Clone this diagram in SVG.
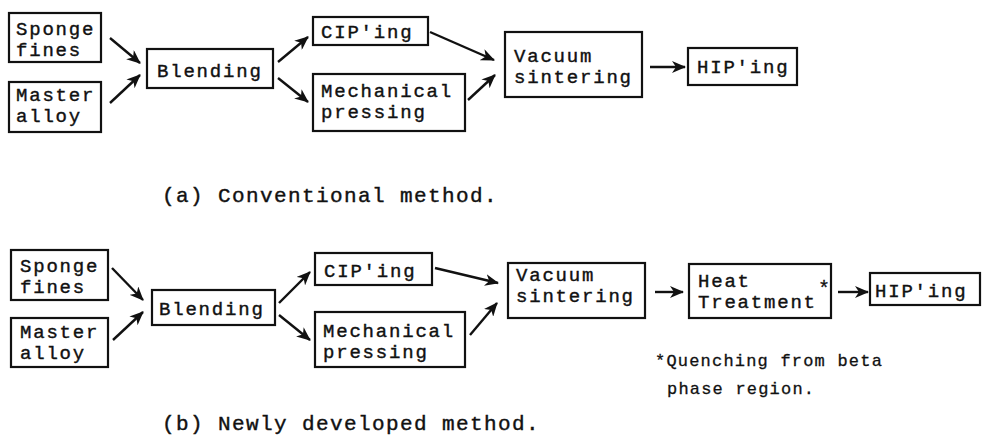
<svg xmlns="http://www.w3.org/2000/svg" width="984" height="443" viewBox="0 0 984 443">
<style>
.box{fill:#fff;stroke:#111;stroke-width:2.2}
.t{font-family:"Liberation Mono","DejaVu Sans Mono",monospace;font-size:19px;letter-spacing:1.8px;fill:#111;stroke:#111;stroke-width:0.4}
.cap{font-family:"Liberation Mono","DejaVu Sans Mono",monospace;font-size:21px;letter-spacing:1.4px;fill:#111;stroke:#111;stroke-width:0.4}
.note{font-family:"Liberation Mono","DejaVu Sans Mono",monospace;font-size:17px;letter-spacing:1.2px;fill:#111;stroke:#111;stroke-width:0.3}
.star{font-family:"Liberation Mono","DejaVu Sans Mono",monospace;font-size:20px;fill:#111;stroke:#111;stroke-width:0.3}
.c{fill:none;stroke:#111;stroke-width:2.4;marker-end:url(#ah)}
</style>
<defs>
<marker id="ah" markerUnits="userSpaceOnUse" markerWidth="14" markerHeight="12" refX="13" refY="6" orient="auto" viewBox="0 0 14 12">
<path d="M0,0 L14,6 L0,12 L4,6 Z" fill="#111"/>
</marker>
</defs>
<rect width="984" height="443" fill="#fff"/>

<g id="connectors">
<line class="c" x1="110" y1="38" x2="140" y2="63"/>
<line class="c" x1="110" y1="103" x2="140" y2="75"/>
<line class="c" x1="278" y1="62" x2="308" y2="37"/>
<line class="c" x1="278" y1="78" x2="308" y2="102"/>
<line class="c" x1="430" y1="32" x2="494" y2="60"/>
<line class="c" x1="468" y1="100" x2="495" y2="75"/>
<line class="c" x1="650" y1="67" x2="685" y2="67"/>

<line class="c" x1="112" y1="268" x2="143" y2="300"/>
<line class="c" x1="113" y1="340" x2="143" y2="312"/>
<line class="c" x1="279" y1="303" x2="310" y2="272"/>
<line class="c" x1="279" y1="315" x2="310" y2="340"/>
<line class="c" x1="435" y1="268" x2="498" y2="283"/>
<line class="c" x1="470" y1="335" x2="497" y2="303"/>
<line class="c" x1="655" y1="292" x2="683" y2="292"/>
<line class="c" x1="838" y1="292" x2="868" y2="292"/>
</g>

<g id="a-sponge"><rect class="box" x="9" y="13" width="92" height="49"/><text class="t" x="16" y="35">Sponge</text><text class="t" x="16" y="56">fines</text></g>
<g id="a-master"><rect class="box" x="9" y="82" width="92" height="50"/><text class="t" x="16" y="101">Master</text><text class="t" x="16" y="122">alloy</text></g>
<g id="a-blending"><rect class="box" x="147" y="49" width="126" height="39"/><text class="t" x="157" y="77">Blending</text></g>
<g id="a-cip"><rect class="box" x="313" y="17" width="115" height="28"/><text class="t" x="321" y="38">CIP'ing</text></g>
<g id="a-mech"><rect class="box" x="313" y="74" width="152" height="57"/><text class="t" x="321" y="97">Mechanical</text><text class="t" x="321" y="118">pressing</text></g>
<g id="a-vacuum"><rect class="box" x="505" y="32" width="137" height="65"/><text class="t" x="514" y="62">Vacuum</text><text class="t" x="514" y="83">sintering</text></g>
<g id="a-hip"><rect class="box" x="688" y="48" width="109" height="37"/><text class="t" x="697" y="73">HIP'ing</text></g>
<text class="cap" x="162" y="202">(a) Conventional method.</text>

<g id="b-sponge"><rect class="box" x="11" y="250" width="97" height="50"/><text class="t" x="20" y="272">Sponge</text><text class="t" x="20" y="293">fines</text></g>
<g id="b-master"><rect class="box" x="11" y="318" width="97" height="49"/><text class="t" x="20" y="338">Master</text><text class="t" x="20" y="359">alloy</text></g>
<g id="b-blending"><rect class="box" x="152" y="290" width="123" height="35"/><text class="t" x="159" y="315">Blending</text></g>
<g id="b-cip"><rect class="box" x="315" y="253" width="117" height="32"/><text class="t" x="324" y="277">CIP'ing</text></g>
<g id="b-mech"><rect class="box" x="315" y="312" width="150" height="55"/><text class="t" x="323" y="337">Mechanical</text><text class="t" x="323" y="358">pressing</text></g>
<g id="b-vacuum"><rect class="box" x="508" y="263" width="137" height="55"/><text class="t" x="516" y="281">Vacuum</text><text class="t" x="516" y="302">sintering</text></g>
<g id="b-heat"><rect class="box" x="689" y="264" width="142" height="54"/><text class="t" x="698" y="287">Heat</text><text class="t" x="698" y="308">Treatment</text><text class="star" x="818" y="295">*</text></g>
<g id="b-hip"><rect class="box" x="870" y="273" width="110" height="32"/><text class="t" x="875" y="297">HIP'ing</text></g>
<text class="note" x="655" y="366">*Quenching from beta</text>
<text class="note" x="667" y="394">phase region.</text>
<text class="cap" x="162" y="430">(b) Newly developed method.</text>
</svg>
